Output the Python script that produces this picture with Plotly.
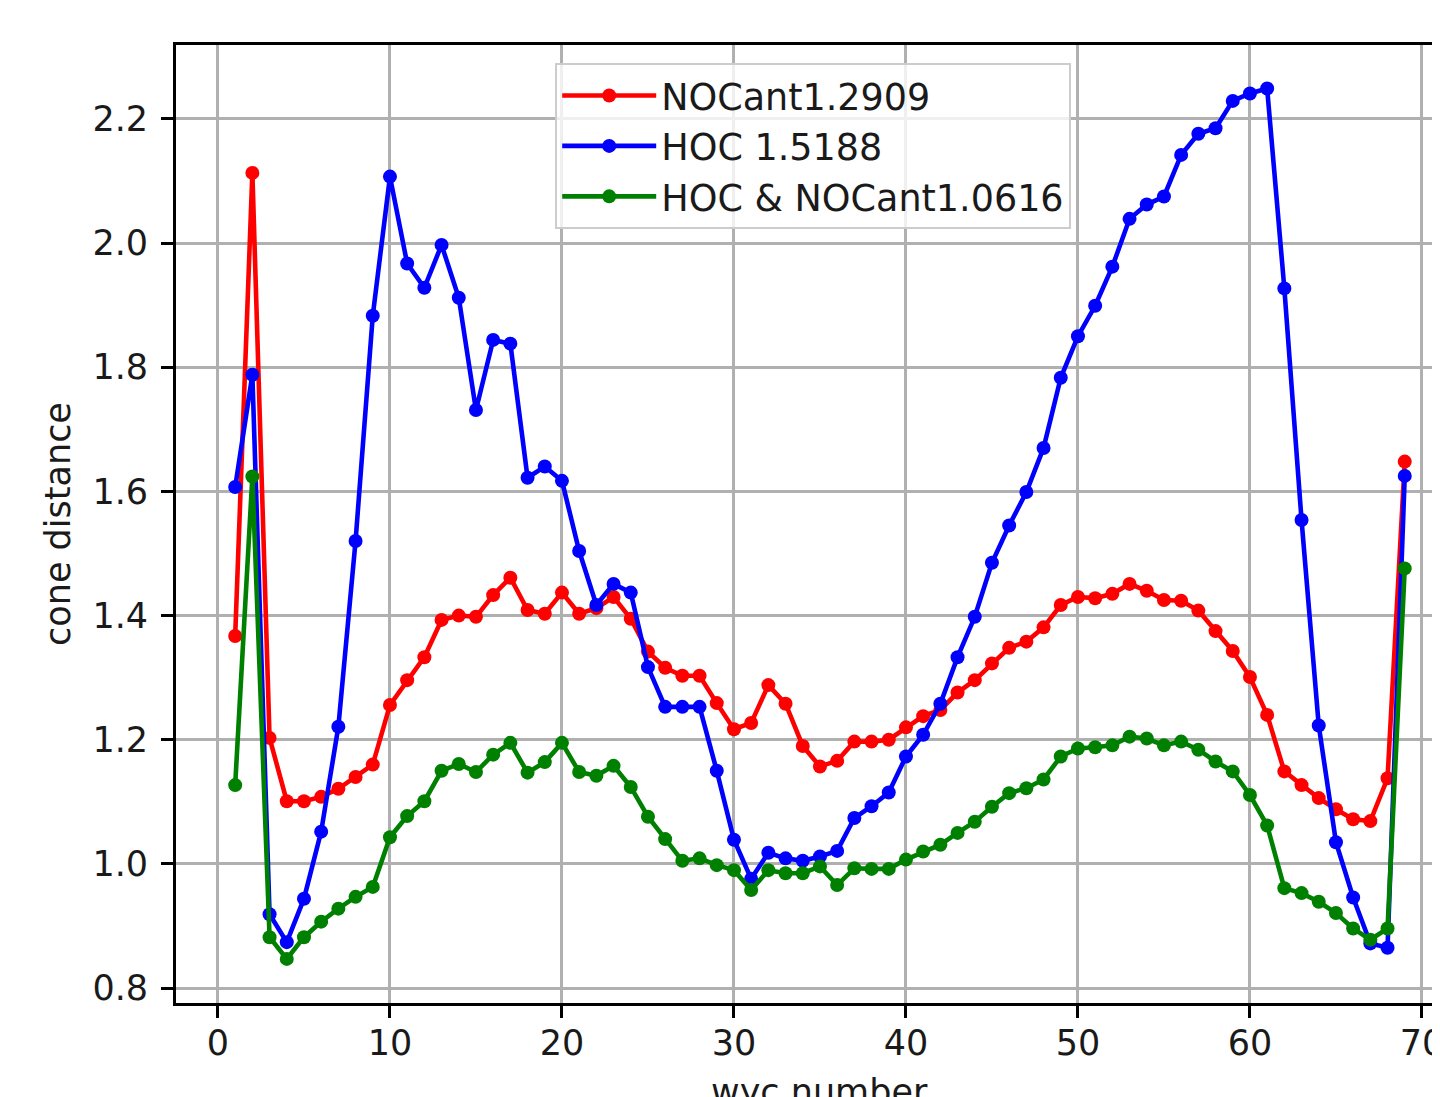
import plotly.graph_objects as go

wyc = list(range(1, 70))

nocant = [1.367, 2.113, 1.203, 1.101, 1.101, 1.108, 1.121, 1.140, 1.160, 1.256,
          1.296, 1.333, 1.393, 1.400, 1.398, 1.433, 1.461, 1.409, 1.403, 1.437,
          1.403, 1.412, 1.430, 1.395, 1.342, 1.316, 1.303, 1.303, 1.259, 1.217,
          1.227, 1.288, 1.258, 1.190, 1.157, 1.166, 1.197, 1.197, 1.200, 1.220,
          1.238, 1.248, 1.276, 1.296, 1.323, 1.348, 1.358, 1.381, 1.417, 1.430,
          1.428, 1.435, 1.451, 1.440, 1.425, 1.424, 1.408, 1.375, 1.343, 1.301,
          1.240, 1.149, 1.127, 1.106, 1.088, 1.072, 1.069, 1.138, 1.648]

hoc = [1.607, 1.788, 0.919, 0.874, 0.944, 1.052, 1.221, 1.520, 1.883, 2.107,
       1.967, 1.928, 1.997, 1.912, 1.731, 1.844, 1.838, 1.622, 1.640, 1.617,
       1.504, 1.417, 1.451, 1.437, 1.317, 1.253, 1.253, 1.253, 1.150, 1.039,
       0.976, 1.018, 1.009, 1.005, 1.012, 1.021, 1.074, 1.093, 1.115, 1.173,
       1.208, 1.258, 1.333, 1.398, 1.485, 1.545, 1.599, 1.670, 1.783, 1.850,
       1.899, 1.962, 2.039, 2.062, 2.075, 2.142, 2.176, 2.185, 2.229, 2.241,
       2.249, 1.927, 1.554, 1.223, 1.035, 0.946, 0.872, 0.865, 1.625]

both = [1.127, 1.624, 0.882, 0.847, 0.882, 0.907, 0.928, 0.947, 0.963, 1.043,
        1.077, 1.101, 1.150, 1.161, 1.148, 1.176, 1.195, 1.147, 1.164, 1.195,
        1.148, 1.142, 1.158, 1.124, 1.076, 1.040, 1.005, 1.009, 0.998, 0.990,
        0.958, 0.990, 0.985, 0.985, 0.996, 0.966, 0.993, 0.992, 0.992, 1.007,
        1.020, 1.031, 1.050, 1.068, 1.092, 1.114, 1.122, 1.136, 1.173, 1.186,
        1.188, 1.191, 1.205, 1.202, 1.191, 1.197, 1.184, 1.165, 1.149, 1.111,
        1.062, 0.961, 0.953, 0.939, 0.921, 0.896, 0.878, 0.896, 1.476]

names = ["NOCant1.2909", "HOC 1.5188", "HOC & NOCant1.0616"]
colors = ["#ff0000", "#0000ff", "#008000"]
series = [nocant, hoc, both]

x_ticks = [0, 10, 20, 30, 40, 50, 60, 70]
y_ticks = [0.8, 1.0, 1.2, 1.4, 1.6, 1.8, 2.0, 2.2]

FONT = "DejaVu Sans"
TXT = "#1a1a1a"

fig = go.Figure()
for name, col, ys in zip(names, colors, series):
    fig.add_trace(go.Scatter(
        x=wyc, y=ys, name=name, mode="lines+markers",
        line=dict(color=col, width=4.6),
        marker=dict(color=col, size=14),
    ))

# page body has an 8px margin, so the figure is 8px smaller than the window
fig.update_layout(
    width=1432, height=1089,
    margin=dict(l=168, r=0, t=37, b=94),
    paper_bgcolor="white", plot_bgcolor="white",
    font=dict(family=FONT, size=35, color=TXT),
    showlegend=True,
    legend=dict(
        x=0.300, y=0.981, xanchor="left", yanchor="top",
        bgcolor="rgba(255,255,255,0.8)", bordercolor="#cccccc", borderwidth=2,
        font=dict(family=FONT, size=36.5, color=TXT),
        itemwidth=94,
    ),
)

fig.update_xaxes(
    range=[-2.44, 71.05], tickvals=x_ticks, ticktext=[str(v) for v in x_ticks],
    showgrid=True, gridcolor="#b0b0b0", gridwidth=2.8,
    showline=True, linecolor="black", linewidth=2.8, mirror=True,
    ticks="outside", ticklen=12, tickwidth=2.8, tickcolor="black",
    zeroline=False, automargin=False, ticklabelstandoff=-5,
    ticklabeloverflow="allow",
    tickfont=dict(family=FONT, size=35, color=TXT),
)
fig.update_yaxes(
    range=[0.776, 2.319], tickvals=y_ticks, ticktext=[f"{v:.1f}" for v in y_ticks],
    showgrid=True, gridcolor="#b0b0b0", gridwidth=2.8,
    showline=True, linecolor="black", linewidth=2.8, mirror=False,
    ticks="outside", ticklen=12, tickwidth=2.8, tickcolor="black",
    zeroline=False, automargin=False, ticklabelstandoff=6,
    tickfont=dict(family=FONT, size=35, color=TXT),
    title=dict(text="cone distance", font=dict(family=FONT, size=35, color=TXT), standoff=12),
)

fig.add_annotation(
    text="wyc number", xref="paper", yref="paper", x=0.509, y=-0.070,
    xanchor="center", yanchor="top", showarrow=False,
    font=dict(family=FONT, size=35, color=TXT),
)

fig.write_html("out.html")
